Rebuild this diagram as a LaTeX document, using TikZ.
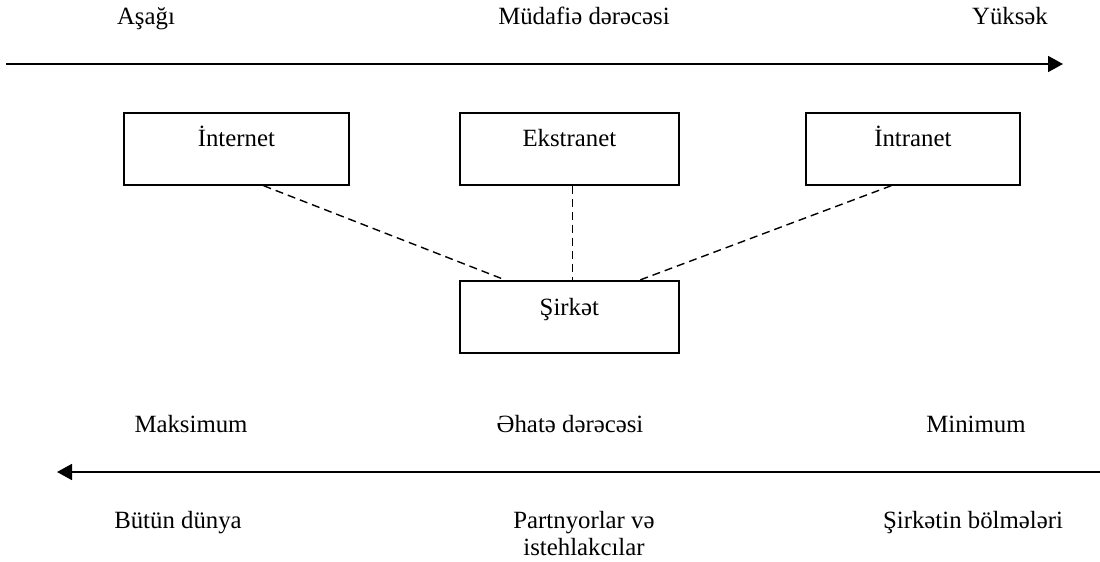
\documentclass[tikz,border=0pt]{standalone}
\usepackage{fontspec}
\setmainfont{Liberation Serif}
\usetikzlibrary{arrows.meta,calc}

\begin{document}
\begin{tikzpicture}[x=1pt,y=-1pt,>={Triangle[length=15pt,width=16pt]},
  every node/.style={font=\fontsize{24.8}{27}\selectfont,inner sep=0pt},
  netbox/.style={draw,line width=1.7pt,minimum width=222pt,
    text height=34pt,text depth=38pt},
  link/.style={dashed,dash pattern=on 8pt off 5pt,line width=1.4pt},
  axisline/.style={line width=1.8pt,->}]
\useasboundingbox (0,0) rectangle (1100,562);
% yuxari sahe: mudafie derecesi
\node[anchor=base] (low) at (146,24) {Aşağı};
\node[anchor=base] (def) at (584,24) {Müdafiə dərəcəsi};
\node[anchor=base] (high) at (1010,24) {Yüksək};
\coordinate (defL) at (6,64);
\coordinate (defR) at (1063,64);
\draw[axisline] (defL)--(defR);
% sebekeler
\node[netbox,anchor=north west,minimum width=225pt] (inet) at (123,112) {İnternet};
\node[netbox,anchor=north west,minimum width=219pt] (extra) at (459,112) {Ekstranet};
\node[netbox,anchor=north west,minimum width=214pt] (intra) at (805,112) {İntranet};
\node[netbox,anchor=north west,minimum width=219pt,text height=35pt,text depth=37pt] (firm) at (459,280) {Şirkət};
\draw[link] ($(inet.south west)!0.62!(inet.south east)$)--($(firm.north west)!0.21!(firm.north east)$);
\draw[link] ($(extra.south west)!0.515!(extra.south east)$)--($(firm.north west)!0.515!(firm.north east)$);
\draw[link] ($(intra.south west)!0.4!(intra.south east)$)--($(firm.north west)!0.82!(firm.north east)$);
% asagi sahe: ehate derecesi
\node[anchor=base] (max) at (191,432) {Maksimum};
\node[anchor=base] (cov) at (570,432) {Əhatə dərəcəsi};
\node[anchor=base] (min) at (976,432) {Minimum};
\coordinate (covR) at (1100,472);
\coordinate (covL) at (57,472);
\draw[axisline] (covR)--(covL);
\node[anchor=base] (world) at (178,528) {Bütün dünya};
\node[align=center,anchor=base] (partner) at (584,555) {Partnyorlar və\\istehlakcılar};
\node[anchor=base] (units) at (973,528) {Şirkətin bölmələri};
\end{tikzpicture}
\end{document}
